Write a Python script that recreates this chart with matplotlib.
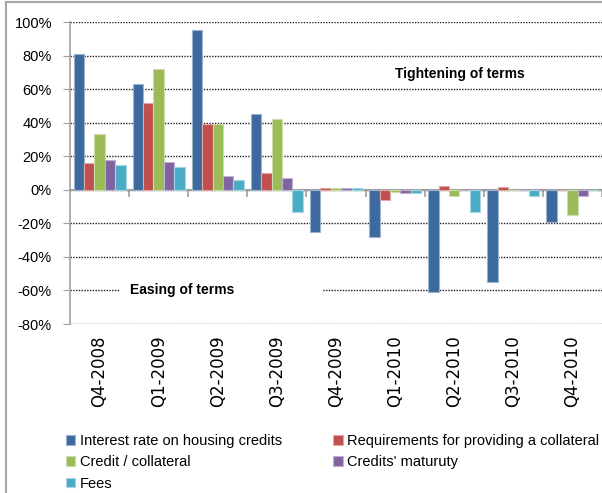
import numpy as np
import matplotlib
matplotlib.use("Agg")
import matplotlib.pyplot as plt
import matplotlib.colors as mcolors
from matplotlib.lines import Line2D
from matplotlib.patches import Rectangle

sans = ['Liberation Sans', 'DejaVu Sans']

quarters = ["Q4-2008", "Q1-2009", "Q2-2009", "Q3-2009", "Q4-2009",
            "Q1-2010", "Q2-2010", "Q3-2010", "Q4-2010"]

interest = [81, 63, 95, 45, -25, -28, -61, -55, -19]
requirements = [16, 52, 39, 10, 1, -6, 2, 1.5, 0]
credit_coll = [33, 72, 39, 42, 1, -1.5, -4, 0, -15]
maturity = [18, 16.5, 8, 7, 1, -2, 0, 0, -3.5]
fees = [15, 13.5, 6, -13, 1, -2, -13, -3.5, 0]

series = [
    ("Interest rate on housing credits", interest, "#3D699E"),
    ("Requirements for providing a collateral", requirements, "#C0504D"),
    ("Credit / collateral", credit_coll, "#9BBB59"),
    ("Credits' maturuty", maturity, "#8064A2"),
    ("Fees", fees, "#4BACC6"),
]

fig = plt.figure(figsize=(6.02, 4.93), dpi=100)
ax = fig.add_axes([70 / 602, (493 - 324) / 493, 1 - 70 / 602, (324 - 22) / 493])

x = np.arange(len(quarters))
w = 0.176
handles = []
for i, (name, vals, col) in enumerate(series):
    light = mcolors.to_hex(0.5 * np.array(mcolors.to_rgb(col)) + 0.5)
    b = ax.bar(x + (i - 2) * w, vals, w, color=col, edgecolor=light,
               linewidth=0.8, zorder=3, label=name)
    handles.append(b)

ax.set_xlim(-0.5, len(quarters) - 0.5)
ax.set_ylim(-80, 100)
ax.set_yticks(np.arange(-80, 101, 20))
ax.set_yticklabels([f"{v}%" for v in range(-80, 101, 20)], fontfamily=sans, fontsize=10.5)
ax.tick_params(axis='y', direction='out', length=5, color='#A0A0A0', pad=8)

ax.yaxis.grid(True, color='#202020', linestyle=(0, (1, 1)), linewidth=1.0, zorder=0)
ax.set_axisbelow(True)

for s in ['top', 'right', 'bottom']:
    ax.spines[s].set_visible(False)
ax.spines['left'].set_color('#A0A0A0')
ax.spines['left'].set_linewidth(1.2)

# category labels at the bottom
ax.set_xticks(x)
ax.set_xticklabels(quarters, rotation=90, fontsize=12, va='top')
ax.tick_params(axis='x', length=0, pad=8)

# zero axis with tick marks between categories
zero = (0 - ax.get_ylim()[0]) / (ax.get_ylim()[1] - ax.get_ylim()[0])
sec = ax.secondary_xaxis(zero)
sec.set_xticks(np.arange(0.5, len(quarters), 1.0))
sec.set_xticklabels([])
sec.tick_params(direction='out', length=5, color='#A0A0A0', width=1.2)
sec.spines['bottom'].set_color('#A0A0A0')
sec.spines['bottom'].set_linewidth(1.2)
ax.axhline(0, color='#A0A0A0', linewidth=1.5, zorder=2)

# annotation boxes
ax.add_patch(Rectangle((0.35, -63), 3.41, 6, facecolor='white', edgecolor='none', zorder=1))
ax.text(0.52, -60, "Easing of terms", fontfamily=sans, fontweight='bold',
        fontsize=10, ha='left', va='center', zorder=4)
ax.text(6.1, 69, "Tightening of terms", fontfamily=sans, fontweight='bold',
        fontsize=10, ha='center', va='center', zorder=4)

# legend, filled row by row
order = [0, 2, 4, 1, 3]
fig.legend([handles[i] for i in order], [series[i][0] for i in order],
           loc='upper left', bbox_to_anchor=(66 / 602, 1 - 434 / 493), ncol=2,
           frameon=False, prop={'family': sans, 'size': 10.5},
           handlelength=0.65, handleheight=0.65, handletextpad=0.3,
           labelspacing=0.5, columnspacing=3.5, borderaxespad=0, borderpad=0)

# chart border
fig.add_artist(Line2D([6 / 602, 1], [1 - 2 / 493, 1 - 2 / 493], color='#A8A8A8', linewidth=1.5))
fig.add_artist(Line2D([6 / 602, 6 / 602], [0, 1 - 2 / 493], color='#A8A8A8', linewidth=1.5))

fig.savefig("out.png", dpi=100)
